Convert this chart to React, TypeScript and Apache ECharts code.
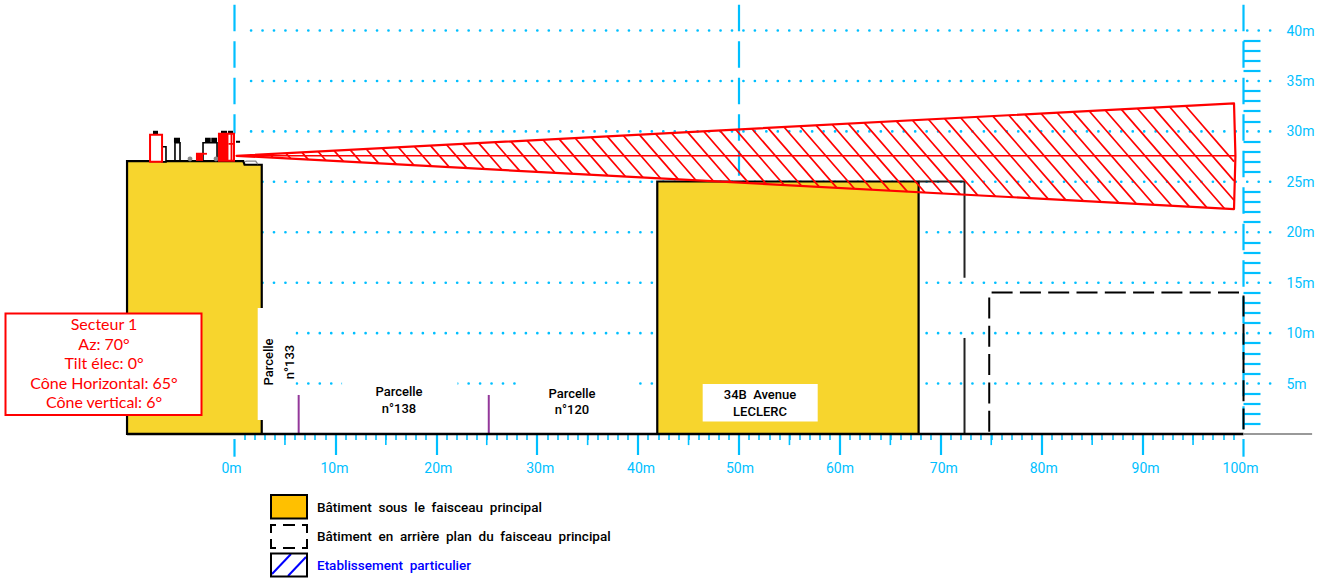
import React, { useEffect, useRef } from "react";
import * as echarts from "echarts";

// ---- Axis labels ----
const xTickValues = [10, 20, 30, 40, 50, 60, 70, 80, 90];
const xMidTicks = [5, 15, 25, 35, 45, 55, 65, 75, 85, 95];
const yRows = [5, 10, 15, 20, 25, 30, 35, 40];
const xLabelValues = [0, 10, 20, 30, 40, 50, 60, 70, 80, 90, 100];
const xLabelNudges = [-3, -1, 2, 3, 3, 1, 0, 3, 2, 3, -3];

// ---- Buildings (metres) ----
const mainBuilding = [[-10.65, 0], [-10.65, 27.05], [0.87, 27.05], [1.0, 26.69], [2.7, 26.69], [2.7, 0]];
const leclercBuilding = [[41.9, 0], [41.9, 25.03], [67.8, 25.03], [67.8, 0]];
const rearBuildingUpper = [[67.8, 25.03], [72.35, 25.03], [72.35, 15.48]];
const rearBuildingLower = [[72.35, 9.52], [72.35, 0]];
const dashedBuilding = [[74.8, 0], [74.8, 14.02], [100, 14.02], [100, 0]];
const parcelBoundaries = [[6.36, 3.87, 6.36, 0], [25.2, 3.87, 25.2, 0]];

// ---- Beam ----
const beamApex = [0.2, 27.58];
const beamTop = [99.06, 32.77];
const beamBottom = [99.06, 22.3];
const beamBulge = [99.2, 27.58];
const hatchSlope = 1.15;
const hatchSpacing = 1.665;
const hatchLastCrossing = 98.56;

// ---- Roof equipment (metres): x0, y0, x1, y1 ----
const redOutlines = [[-8.37, 26.98, -7.18, 29.66], [-1.54, 27.08, -0.05, 29.76]];
const redFilled = [[-3.82, 27.08, -3.12, 27.88], [-1.54, 27.08, -0.6, 29.76]];
const redStrokes = [[-3.12, 27.78, -2.73, 27.78], [-0.3, 27.08, -0.3, 29.76], [-0.6, 28.76, -0.05, 28.76]];
const blackOutlines = [[-7.18, 26.98, -6.79, 28.47], [-5.9, 27.08, -5.4, 28.87], [-3.12, 27.08, -1.73, 28.87]];
const blackCaps = [
  [-8.08, 29.66, -7.58, 30.06], [-6.0, 28.87, -5.4, 29.37], [-2.92, 28.87, -2.36, 29.37],
  [-2.3, 28.87, -1.73, 29.37], [-1.34, 29.76, -0.74, 30.06], [-0.64, 29.76, -0.15, 30.06], [0.15, 28.87, 0.55, 29.07],
];
const grayDots = [[-4.41, 27.28], [-1.83, 27.28]];
const grayRoofDetail = [[1.05, 27.0], [1.2, 27.05], [2.1, 27.05], [2.3, 26.75]];

// ---- White label masks (metres): x0, y0, x1, y1 ----
const labelMasks = [
  [2.3, 12.5, 6.05, 1.4],
  [10.66, 5.4, 22.1, 1.5],
  [28.1, 5.4, 39.9, 1.5],
  [46.4, 4.96, 57.8, 1.23],
];

const sectorLines = ["Secteur 1", "Az: 70°", "Tilt élec: 0°", "Cône Horizontal: 65°", "Cône vertical: 6°"];
const parcelLabels = [["Parcelle", 399, 391], ["n°138", 399, 408], ["Parcelle", 572, 393], ["n°120", 572, 409], ["34B  Avenue", 760, 394], ["LECLERC", 760, 411]];
const parcelRotated = [["Parcelle", 268, 362], ["n°133", 289, 362]];
const legendItems = ["Bâtiment  sous  le  faisceau  principal", "Bâtiment  en  arrière  plan  du  faisceau  principal", "Etablissement  particulier"];
const legendDashes = [
  [271, 525, 276, 525], [283, 525, 295, 525], [302, 525, 307, 525],
  [271, 548, 276, 548], [283, 548, 295, 548], [302, 548, 307, 548],
  [271, 524, 271, 533], [271, 539, 271, 549],
  [307, 524, 307, 533], [307, 539, 307, 549],
];

const CYAN = "#00BFFF";
const RED = "#FF0000";
const YELLOW = "#F7D52D";
const LABEL_FONT = "Roboto";

function shapeSeries(name: string, kind: string, points: number[][], style: any, z: number) {
  return {
    type: "custom", name, coordinateSystem: "cartesian2d", z, silent: true, data: points,
    renderItem: (params: any, api: any) =>
      params.dataIndex === 0
        ? { type: kind, shape: { points: points.map((p) => api.coord(p)) }, style }
        : null,
  };
}

function segmentSeries(name: string, segs: number[][], style: any, z: number) {
  return {
    type: "custom", name, coordinateSystem: "cartesian2d", z, silent: true, data: segs,
    encode: { x: [0, 2], y: [1, 3] },
    renderItem: (_: any, api: any) => {
      const a = api.coord([api.value(0), api.value(1)]);
      const b = api.coord([api.value(2), api.value(3)]);
      return { type: "line", shape: { x1: a[0], y1: a[1], x2: b[0], y2: b[1] }, style };
    },
  };
}

function rectSeries(name: string, rects: number[][], style: any, z: number) {
  return {
    type: "custom", name, coordinateSystem: "cartesian2d", z, silent: true, data: rects,
    encode: { x: [0, 2], y: [1, 3] },
    renderItem: (_: any, api: any) => {
      const a = api.coord([api.value(0), api.value(1)]);
      const b = api.coord([api.value(2), api.value(3)]);
      return {
        type: "rect",
        shape: { x: Math.min(a[0], b[0]), y: Math.min(a[1], b[1]), width: Math.abs(b[0] - a[0]), height: Math.abs(b[1] - a[1]) },
        style,
      };
    },
  };
}

function hatchSegments() {
  const topT = (beamTop[1] - beamApex[1]) / (beamTop[0] - beamApex[0]);
  const botT = (beamApex[1] - beamBottom[1]) / (beamBottom[0] - beamApex[0]);
  const segs: number[][] = [];
  for (let xc = hatchLastCrossing; xc > beamApex[0]; xc -= hatchSpacing) {
    const xa = (hatchSlope * xc + topT * beamApex[0]) / (hatchSlope + topT);
    let xb = (hatchSlope * xc - botT * beamApex[0]) / (hatchSlope - botT);
    if (xb > beamTop[0]) xb = beamTop[0];
    segs.push([xa, beamApex[1] - hatchSlope * (xa - xc), xb, beamApex[1] - hatchSlope * (xb - xc)]);
  }
  return segs;
}

function buildOption() {
  const cyanLine = { stroke: CYAN, lineWidth: 2.2 };
  const blackLine = { stroke: "#000", lineWidth: 2, fill: "none" };
  const series: any[] = [
    segmentSeries("dots", yRows.map((y) => [1.64, y, 102.9, y]), { stroke: CYAN, lineWidth: 2.6, lineDash: [0.1, 11.35], lineCap: "round" }, 1),
    segmentSeries("vertical-0", [[0, 42.56, 0, 29.8]], { ...cyanLine, lineDash: [26.5, 10] }, 2),
    segmentSeries("vertical-50", [[50, 42.56, 50, 25.6]], { ...cyanLine, lineDash: [26.5, 10] }, 2),
    segmentSeries("vertical-100", [[100, 42.56, 100, 0.5]], { ...cyanLine, lineDash: [26.5, 10] }, 2),
    segmentSeries("end-ticks", [[0, -0.5, 0, -2.25], [100, -0.5, 100, -2.25]], cyanLine, 2),
    segmentSeries("mid-ticks", xMidTicks.map((x) => [x, 0, x, -1.1]), { stroke: CYAN, lineWidth: 1.6 }, 2),
    shapeSeries("dashed-building", "polyline", dashedBuilding, { ...blackLine, lineDash: [21, 7.3], lineDashOffset: 25.8 }, 3),
    shapeSeries("main-building", "polygon", mainBuilding, { fill: YELLOW, stroke: "#000", lineWidth: 2.2 }, 3),
    shapeSeries("leclerc", "polygon", leclercBuilding, { fill: YELLOW, stroke: "#000", lineWidth: 2.2 }, 3),
    shapeSeries("rear-upper", "polyline", rearBuildingUpper, { ...blackLine, stroke: "#222" }, 3),
    shapeSeries("rear-lower", "polyline", rearBuildingLower, { ...blackLine, stroke: "#222" }, 3),
    rectSeries("masks", labelMasks, { fill: "#fff" }, 4),
    segmentSeries("parcel-boundaries", parcelBoundaries, { stroke: "#93389A", lineWidth: 2 }, 5),
    segmentSeries("ground", [[-10.65, 0, 100, 0]], { stroke: "#000", lineWidth: 2.6 }, 5),
    segmentSeries("ground-gray", [[100, 0, 106.8, 0]], { stroke: "#999", lineWidth: 2 }, 5),
    rectSeries("black-outlines", blackOutlines, { fill: "#fff", stroke: "#000", lineWidth: 1.6 }, 6),
    rectSeries("black-caps", blackCaps, { fill: "#000" }, 6),
    {
      type: "custom", name: "gray-dots", coordinateSystem: "cartesian2d", z: 6, silent: true, data: grayDots,
      renderItem: (_: any, api: any) => {
        const c = api.coord([api.value(0), api.value(1)]);
        return { type: "circle", shape: { cx: c[0], cy: c[1], r: 2.4 }, style: { fill: "#888" } };
      },
    },
    shapeSeries("gray-roof", "polyline", grayRoofDetail, { stroke: "#888", lineWidth: 1.4, fill: "none" }, 6),
    rectSeries("red-outlines", redOutlines, { fill: "#fff", stroke: RED, lineWidth: 2 }, 7),
    rectSeries("red-filled", redFilled, { fill: RED }, 8),
    segmentSeries("red-strokes", redStrokes, { stroke: RED, lineWidth: 1.8 }, 8),
    segmentSeries("hatching", hatchSegments(), { stroke: RED, lineWidth: 1.7 }, 9),
    segmentSeries("beam-axis", [[beamApex[0], beamApex[1], beamBulge[0], beamBulge[1]]], { stroke: RED, lineWidth: 1.6 }, 9),
    shapeSeries("beam", "polygon", [beamApex, beamTop, beamBulge, beamBottom], { fill: "none", stroke: RED, lineWidth: 2.2, lineJoin: "round" }, 9),
  ];

  const blackText = (text: string, x: number, y: number, extra: any = {}) => ({
    type: "text", x, y, z: 100, silent: true, ...extra,
    style: { text, fill: "#000", font: `500 13px ${LABEL_FONT}`, align: "center", verticalAlign: "middle" },
  });

  const graphic: any[] = [
    { type: "rect", z: 90, silent: true, shape: { x: 5.5, y: 313.5, width: 196, height: 101.5 }, style: { fill: "#fff", stroke: RED, lineWidth: 2 } },
    ...sectorLines.map((t, i) => ({
      type: "text", x: 104, y: 323.5 + i * 19.6, z: 100, silent: true,
      style: { text: t, fill: RED, font: "16px Lato", align: "center", verticalAlign: "middle" },
    })),
    ...parcelLabels.map((p) => blackText(p[0] as string, p[1] as number, p[2] as number)),
    ...parcelRotated.map((p) => blackText(p[0] as string, p[1] as number, p[2] as number, { rotation: Math.PI / 2 })),
    // legend
    { type: "rect", z: 90, silent: true, shape: { x: 271, y: 495, width: 36, height: 23.5 }, style: { fill: "#FFC000", stroke: "#000", lineWidth: 2 } },
    ...legendDashes.map((d) => ({
      type: "line", z: 90, silent: true, shape: { x1: d[0], y1: d[1], x2: d[2], y2: d[3] }, style: { stroke: "#000", lineWidth: 2 },
    })),
    { type: "line", z: 91, silent: true, shape: { x1: 272, y1: 574, x2: 291, y2: 554 }, style: { stroke: "#0000FF", lineWidth: 2 } },
    { type: "line", z: 91, silent: true, shape: { x1: 288, y1: 576, x2: 306, y2: 557 }, style: { stroke: "#0000FF", lineWidth: 2 } },
    { type: "rect", z: 92, silent: true, shape: { x: 271, y: 553.5, width: 36, height: 23 }, style: { fill: "none", stroke: "#000", lineWidth: 2 } },
    ...legendItems.map((t, i) => ({
      type: "text", x: 317, y: [507, 536, 565][i], z: 100, silent: true,
      style: { text: t, fill: i === 2 ? "#0000FF" : "#000", font: `500 13.5px ${LABEL_FONT}`, align: "left", verticalAlign: "middle" },
    })),
  ];

  const rich: any = {};
  xLabelValues.forEach((v, i) => {
    const n = xLabelNudges[i];
    rich[`s${v}`] = {
      color: CYAN, fontFamily: LABEL_FONT, fontSize: 14, fontWeight: 400,
      padding: [0, n < 0 ? -2 * n : 0, 0, n > 0 ? 2 * n : 0],
    };
  });

  return {
    animation: false,
    backgroundColor: "#fff",
    grid: { left: 234.5, right: 76.5, top: 30.5, bottom: 145, containLabel: false },
    xAxis: {
      type: "value", min: 0, max: 100, interval: 10,
      axisLine: { show: false, onZero: false },
      splitLine: { show: false },
      axisTick: { show: true, length: 21, customValues: xTickValues, lineStyle: { color: CYAN, width: 2.2 } },
      minorTick: { show: true, splitNumber: 10, length: 6, lineStyle: { color: CYAN, width: 1.6 } },
      axisLabel: { margin: 27, color: CYAN, fontFamily: LABEL_FONT, fontSize: 14, rich, formatter: (v: number) => `{s${v}|${v}m}` },
    },
    yAxis: {
      type: "value", position: "right", min: 0, max: 40, interval: 5,
      axisLine: { show: false, onZero: false },
      splitLine: { show: false },
      axisTick: { show: false },
      minorTick: { show: true, splitNumber: 5, length: 17, lineStyle: { color: CYAN, width: 2.2 } },
      axisLabel: {
        margin: 43, color: CYAN, fontFamily: LABEL_FONT, fontSize: 14, padding: [0, 0, 3, 0],
        formatter: (v: number) => (v === 0 ? "" : `${v}m`),
      },
    },
    series,
    graphic,
  };
}

export default function App() {
  const ref = useRef<HTMLDivElement>(null);
  useEffect(() => {
    document.body.style.margin = "0";
    const chart = echarts.init(ref.current!, undefined, { renderer: "svg" });
    chart.setOption(buildOption() as any);
    return () => chart.dispose();
  }, []);
  return <div ref={ref} style={{ width: 1320, height: 579, overflow: "hidden" }} />;
}
